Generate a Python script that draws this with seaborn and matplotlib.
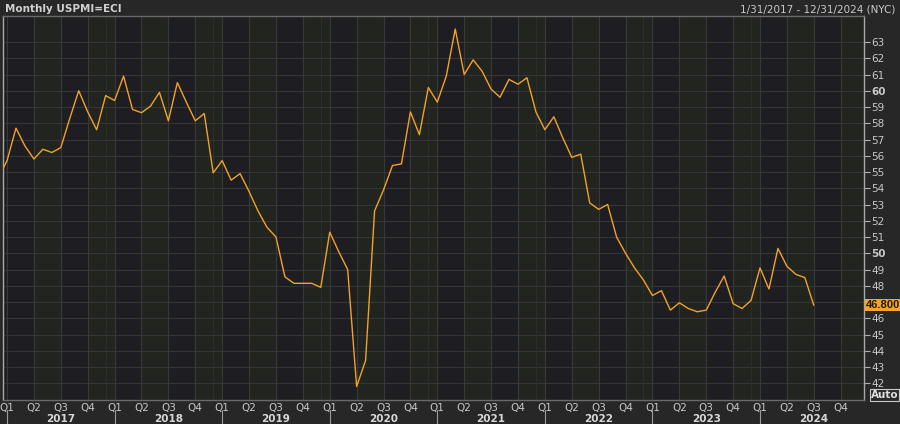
import numpy as np
import pandas as pd
import matplotlib
matplotlib.use("Agg")
import matplotlib.pyplot as plt
import seaborn as sns

# monthly ISM manufacturing PMI, Dec 2016 .. Jul 2024
months = pd.period_range("2016-12", "2024-07", freq="M")
pmi_values = [
    54.6,
    55.7, 57.7, 56.6, 55.8, 56.4, 56.2, 56.5, 58.3, 60.0, 58.7, 57.6, 59.7,
    59.4, 60.9, 58.85, 58.65, 59.05, 59.9, 58.15, 60.5, 59.3, 58.15, 58.6, 54.95,
    55.7, 54.5, 54.9, 53.8, 52.6, 51.6, 51.0, 48.55, 48.15, 48.15, 48.15, 47.9,
    51.3, 50.1, 49.0, 41.8, 43.4, 52.6, 53.9, 55.4, 55.5, 58.7, 57.3, 60.2,
    59.3, 60.9, 63.8, 61.0, 61.9, 61.2, 60.1, 59.6, 60.7, 60.4, 60.8, 58.7,
    57.6, 58.4, 57.1, 55.9, 56.1, 53.1, 52.7, 53.0, 51.0, 50.0, 49.1, 48.35,
    47.4, 47.7, 46.5, 46.95, 46.6, 46.4, 46.5, 47.6, 48.6, 46.9, 46.6, 47.1,
    49.1, 47.8, 50.3, 49.2, 48.7, 48.5, 46.8,
]
years = [2017, 2018, 2019, 2020, 2021, 2022, 2023, 2024]
quarter_labels = ["Q1", "Q2", "Q3", "Q4"]
y_ticks = list(range(42, 64))
last_label = "46.800"

# month index, 0 = Jan 2017
df = pd.DataFrame({
    "m": [(p.year - 2017) * 12 + p.month - 1 for p in months],
    "pmi": pmi_values,
})

fig_bg = "#272727"
ax_bg = "#1e1d21"
band_bg = "#21241f"
txt = "#c8c8c8"
line_col = "#f0a22a"

sns.set_style("dark")
plt.rcParams["font.family"] = ["DejaVu Sans"]

fig = plt.figure(figsize=(9, 4.24), dpi=100, facecolor=fig_bg)
ax = fig.add_axes([3 / 900, 24 / 424, 861 / 900, 384 / 424])
ax.set_facecolor(ax_bg)

x_min, x_max = -0.45, 95.6
y_min, y_max = 40.97, 64.6

# greenish bands for Q2 and Q4
for yr in range(len(years)):
    for q in (1, 3):
        s = yr * 12 + q * 3
        ax.axvspan(s, s + 3, color=band_bg, zorder=0, lw=0)

# grid
for v in y_ticks:
    ax.axhline(v, color="#353537", lw=0.8, zorder=1)
for yr in range(len(years)):
    for q in range(4):
        ax.axvline(yr * 12 + q * 3, color="#383b35", lw=0.8, zorder=1)
    ax.axvline(yr * 12 - 1, color="#2d2f2b", lw=0.7, zorder=1)

sns.lineplot(data=df, x="m", y="pmi", ax=ax, color=line_col, lw=1.0,
             zorder=3, legend=False)

ax.set_xlim(x_min, x_max)
ax.set_ylim(y_min, y_max)
ax.set_xlabel("")
ax.set_ylabel("")
ax.grid(False)

# y axis on the right; 47 sits under the last-value tag
ax.yaxis.tick_right()
ax.set_yticks(y_ticks)
ax.set_yticklabels(["" if v == 47 else str(v) for v in y_ticks],
                   color=txt, fontsize=7.5)
for lbl, v in zip(ax.get_yticklabels(), y_ticks):
    if v % 10 == 0:
        lbl.set_fontweight("bold")
ax.tick_params(axis="y", direction="out", length=4, width=0.8, color="#b0b0b0",
               pad=1, right=True, left=False)

# quarter ticks on x
q_pos = [yr * 12 + q * 3 for yr in range(len(years)) for q in range(4)]
ax.set_xticks(q_pos)
ax.set_xticklabels(quarter_labels * len(years), color=txt, fontsize=7.5)
ax.tick_params(axis="x", length=0, pad=2)

# year labels and separators under the quarters
xt = ax.get_xaxis_transform()
for i, yr in enumerate(years):
    ax.text(i * 12 + 6, -0.049, str(yr), transform=xt,
            ha="center", va="center", color="#d8d8d8", fontsize=7.5,
            fontweight="bold", clip_on=False)
    ax.plot([i * 12, i * 12], [-0.026, -0.065], transform=xt,
            color="#9a9a9a", lw=0.8, clip_on=False)

# spines
for side in ("top", "left", "right", "bottom"):
    ax.spines[side].set_visible(True)
    ax.spines[side].set_linewidth(1.0)
ax.spines["top"].set_color("#6a6a6a")
ax.spines["left"].set_color("#a8a8a8")
ax.spines["right"].set_color("#a8a8a8")
ax.spines["bottom"].set_color("#6a6a6a")

# last value tag
ax.text(1.0025, (pmi_values[-1] - y_min) / (y_max - y_min), last_label,
        transform=ax.transAxes, ha="left", va="center", color="#1a1a1a",
        fontsize=8, fontweight="bold", family=["Liberation Sans"], clip_on=False,
        bbox=dict(boxstyle="square,pad=0.1", fc="#f5a623", ec="none"))

# "Auto" box
fig.text(0.9675, 0.068, "Auto", ha="left", va="center", color="#e0e0e0",
         fontsize=7.5, fontweight="bold",
         bbox=dict(boxstyle="square,pad=0.1", fc="#2a2a2a", ec="#c8c8c8", lw=0.8))

# header
fig.text(0.006, 0.978, "Monthly USPMI=ECI", ha="left", va="center",
         color="#d0d0d0", fontsize=7.5, fontweight="bold")
fig.text(0.995, 0.978, "1/31/2017 - 12/31/2024 (NYC)", ha="right", va="center",
         color="#c8c8c8", fontsize=7.5)

fig.savefig("out.png", dpi=100, facecolor=fig_bg)
